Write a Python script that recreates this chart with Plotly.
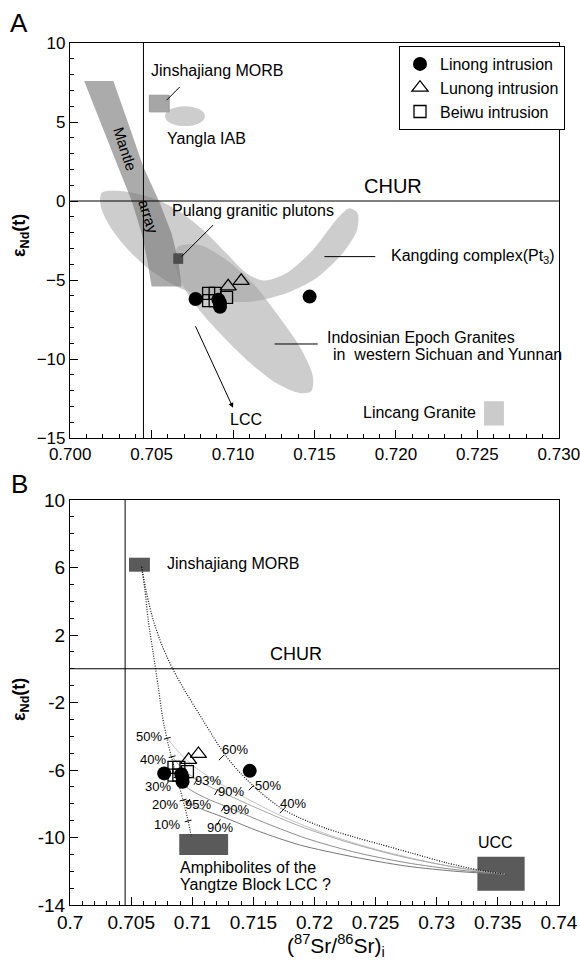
import plotly.graph_objects as go

# ---------------- sample data (same samples in both panels) ----------------
LINONG_SR = [0.7077, 0.7091, 0.7092, 0.7092, 0.7147]
LINONG_ND = [-6.2, -6.25, -6.45, -6.7, -6.05]
LUNONG_SR = [0.7097, 0.7105]
LUNONG_ND = [-5.4, -5.05]
BEIWU_SR = [0.7085, 0.7089, 0.7085, 0.7089, 0.7096]
BEIWU_ND = [-5.85, -5.85, -6.3, -6.3, -6.1]

BULK_EARTH_SR = 0.7045
CHUR_ND = 0.0

# ---------------- panel A reference fields ----------------
MANTLE_SR = [0.70086, 0.70265, 0.70357, 0.70449, 0.70551, 0.70622, 0.70663, 0.70684,
             0.70500, 0.70473, 0.70439, 0.70378, 0.70286, 0.70184]
MANTLE_ND = [7.60, 7.60, 4.905, 2.168, -0.147, -2.042, -3.726, -5.411,
             -5.411, -3.726, -2.042, 0.0, 2.379, 5.011]
KANGDING_SR = [0.70194, 0.70347, 0.70510, 0.70673, 0.70816, 0.70959, 0.71082, 0.71184,
               0.71327, 0.71490, 0.71633, 0.71714, 0.71765, 0.71761, 0.71673, 0.71510,
               0.71327, 0.71122, 0.70959, 0.70796, 0.70633, 0.70490, 0.70347, 0.70245, 0.70188]
KANGDING_ND = [0.526, 0.589, 0.168, -0.674, -1.832, -3.305, -4.568, -5.032,
               -4.568, -3.095, -1.200, -0.463, -0.779, -1.832, -3.305, -4.884,
               -5.832, -6.358, -6.358, -6.0, -5.305, -4.358, -2.989, -1.621, -0.358]
INDOSINIAN_SR = [0.70663, 0.70796, 0.70959, 0.71122, 0.71265, 0.71408, 0.71490, 0.71480,
                 0.71408, 0.71265, 0.71082, 0.70918, 0.70776, 0.70673, 0.70643]
INDOSINIAN_ND = [-2.88, -2.78, -3.73, -5.20, -7.09, -9.20, -11.09, -12.04,
                 -12.15, -11.52, -10.04, -8.36, -6.67, -4.99, -3.73]
MORB_A = [0.70486, 0.70608, 5.642, 6.695]        # Sr min, Sr max, Nd min, Nd max
YANGLA_A = [0.70582, 0.70827, 4.74, 6.0]
PULANG_A = [0.70633, 0.70694, -3.98, -3.31]
LINCANG_A = [0.72541, 0.72663, -14.21, -12.67]

# ---------------- panel B end-members and mixing curves ----------------
MORB_B = [0.70482, 0.70653, 5.75, 6.58]
AMPH_B = [0.70893, 0.71293, -11.04, -9.79]
UCC_B = [0.73333, 0.73720, -13.15, -11.14]

MIX_LCC_SR = [0.70585, 0.70612, 0.70639, 0.70680, 0.70721, 0.70756, 0.70795, 0.70835,
              0.70876, 0.70920, 0.70961, 0.70993]
MIX_LCC_ND = [6.05, 4.67, 2.89, 0.91, -1.06, -2.84, -4.22, -5.41, -6.49, -7.68, -8.86, -9.97]
MIX_UCC_SR = [0.70585, 0.70626, 0.70680, 0.70756, 0.70844, 0.70952, 0.71061, 0.71170,
              0.71279, 0.71401, 0.71551, 0.71728, 0.71878, 0.72095, 0.72313, 0.72531,
              0.72803, 0.73075, 0.73347, 0.73565]
MIX_UCC_ND = [6.05, 4.47, 2.89, 1.31, -0.07, -1.46, -2.74, -4.02, -5.21, -6.24, -7.28,
              -8.27, -8.83, -9.46, -9.95, -10.39, -10.94, -11.49, -11.93, -12.18]
MIX50_SR = [0.70795, 0.70898, 0.71034, 0.71224, 0.71442, 0.71714, 0.72041, 0.72422, 0.72857, 0.73238, 0.73565]
MIX50_ND = [-4.12, -5.01, -5.90, -6.79, -7.68, -8.67, -9.65, -10.54, -11.33, -11.88, -12.18]
MIX40_SR = [0.70835, 0.70925, 0.71061, 0.71279, 0.71551, 0.71878, 0.72259, 0.72694, 0.73129, 0.73565]
MIX40_ND = [-5.21, -5.96, -6.69, -7.44, -8.33, -9.32, -10.25, -11.10, -11.73, -12.18]
MIX30_SR = [0.70876, 0.70966, 0.71116, 0.71333, 0.71605, 0.71932, 0.72313, 0.72748, 0.73184, 0.73565]
MIX30_ND = [-6.40, -7.09, -7.68, -8.33, -9.16, -10.05, -10.84, -11.49, -11.93, -12.18]
MIX20_SR = [0.70925, 0.71061, 0.71279, 0.71551, 0.71878, 0.72313, 0.72748, 0.73184, 0.73565]
MIX20_ND = [-7.78, -8.27, -8.86, -9.65, -10.44, -11.14, -11.69, -12.02, -12.18]

TICK_LCC_SR = [0.70795, 0.70835, 0.70876, 0.70925, 0.70966]
TICK_LCC_ND = [-4.12, -5.21, -6.40, -7.78, -9.02]
TICK_LCC_TXT = ["50%", "40%", "30%", "20%", "10%"]
TICK_LCC_LBL_SR = [0.70648, 0.70680, 0.70716, 0.70776, 0.70795]
TICK_LCC_LBL_ND = [-4.02, -5.37, -6.99, -8.03, -9.20]
TICK_UCC_SR = [0.71238, 0.71483, 0.71736]
TICK_UCC_ND = [-5.27, -7.05, -8.41]
TICK_UCC_TXT = ["60%", "50%", "40%"]
TICK_UCC_LBL_SR = [0.71347, 0.71619, 0.71823]
TICK_UCC_LBL_ND = [-4.78, -6.93, -8.01]
TICK_MIX_SR = [0.71029, 0.71197, 0.70966, 0.71252, 0.71215]
TICK_MIX_ND = [-6.69, -7.30, -7.90, -8.27, -9.10]
TICK_MIX_TXT = ["93%", "90%", "95%", "90%", "90%"]
TICK_MIX_LBL_SR = [0.71129, 0.71320, 0.71048, 0.71361, 0.71230]
TICK_MIX_LBL_ND = [-6.65, -7.28, -8.07, -8.37, -9.40]

XTICKS_A = [0.700, 0.705, 0.710, 0.715, 0.720, 0.725, 0.730]
XTICKTEXT_A = ["0.700", "0.705", "0.710", "0.715", "0.720", "0.725", "0.730"]
XTICKS_B = [0.7, 0.705, 0.71, 0.715, 0.72, 0.725, 0.73, 0.735, 0.74]
XTICKTEXT_B = ["0.7", "0.705", "0.71", "0.715", "0.72", "0.725", "0.73", "0.735", "0.74"]
YTICKS_B = [-14, -10, -6, -2, 2, 6, 10]
YTICKTEXT_B = ["-14", "-10", "-6", "-2", "2", "6", "10"]

# ---------------- figure ----------------
W, H = 580, 960
FONT = "Liberation Sans, Arial, sans-serif"
fig = go.Figure()

def poly(xs, ys, color, xa, ya, shape="spline"):
    fig.add_trace(go.Scatter(x=xs + xs[:1], y=ys + ys[:1], mode="lines", fill="toself",
                             fillcolor=color, line=dict(width=0, shape=shape, smoothing=0.8),
                             hoverinfo="skip", showlegend=False, xaxis=xa, yaxis=ya))

LIGHT = "rgba(159,159,159,0.52)"
poly(KANGDING_SR, KANGDING_ND, LIGHT, "x", "y")
poly(INDOSINIAN_SR, INDOSINIAN_ND, LIGHT, "x", "y")
poly(MANTLE_SR, MANTLE_ND, "rgba(120,120,120,0.62)", "x", "y", shape="linear")

# mixing curves panel B
def curve(xs, ys, color, dash, width):
    fig.add_trace(go.Scatter(x=xs, y=ys, mode="lines", line=dict(color=color, dash=dash, width=width,
                             shape="spline", smoothing=0.8), hoverinfo="skip", showlegend=False,
                             xaxis="x2", yaxis="y2"))

curve(MIX50_SR, MIX50_ND, "#c4c4c4", "solid", 1)
curve(MIX40_SR, MIX40_ND, "#a8a8a8", "solid", 1)
curve(MIX30_SR, MIX30_ND, "#8c8c8c", "solid", 1)
curve(MIX20_SR, MIX20_ND, "#777777", "solid", 1)
curve(MIX_LCC_SR, MIX_LCC_ND, "#222222", "1px,1.5px", 1.2)
curve(MIX_UCC_SR, MIX_UCC_ND, "#111111", "1px,1.5px", 1.2)

for xs, ys, ang in [(TICK_LCC_SR, TICK_LCC_ND, 15), (TICK_UCC_SR, TICK_UCC_ND, 45), (TICK_MIX_SR, TICK_MIX_ND, 60)]:
    fig.add_trace(go.Scatter(x=xs, y=ys, mode="markers", hoverinfo="skip", showlegend=False,
                             marker=dict(symbol="line-ew-open", size=5, angle=-ang, color="black",
                                         line=dict(color="black", width=1)),
                             xaxis="x2", yaxis="y2"))

# samples in both panels
for xa, ya, show in [("x", "y", True), ("x2", "y2", False)]:
    fig.add_trace(go.Scatter(x=LINONG_SR, y=LINONG_ND, mode="markers", name="Linong intrusion",
                             legendgroup="a", showlegend=show, xaxis=xa, yaxis=ya,
                             marker=dict(symbol="circle", size=14, color="black")))
    fig.add_trace(go.Scatter(x=LUNONG_SR, y=LUNONG_ND, mode="markers", name="Lunong intrusion",
                             legendgroup="b", showlegend=show, xaxis=xa, yaxis=ya,
                             marker=dict(symbol="triangle-up-open", size=14, color="black",
                                         line=dict(width=1.3))))
    fig.add_trace(go.Scatter(x=BEIWU_SR, y=BEIWU_ND, mode="markers", name="Beiwu intrusion",
                             legendgroup="c", showlegend=show, xaxis=xa, yaxis=ya,
                             marker=dict(symbol="square-open", size=12, color="black",
                                         line=dict(width=1.3))))

shapes = []
def rect(b, xr, yr, color, line="rgba(0,0,0,0)", layer="above"):
    shapes.append(dict(type="rect", xref=xr, yref=yr, x0=b[0], x1=b[1], y0=b[2], y1=b[3],
                       fillcolor=color, line=dict(color=line, width=1), layer=layer))

def seg(x0, y0, x1, y1, xr, yr, width=1):
    shapes.append(dict(type="line", xref=xr, yref=yr, x0=x0, y0=y0, x1=x1, y1=y1,
                       line=dict(color="black", width=width)))

# panel A shapes
shapes.append(dict(type="circle", xref="x", yref="y", x0=YANGLA_A[0], x1=YANGLA_A[1],
                   y0=YANGLA_A[2], y1=YANGLA_A[3], fillcolor="#cdcdcd", line=dict(width=0)))
rect(MORB_A, "x", "y", "#a6a6a6", "#999999")
rect(PULANG_A, "x", "y", "#4d4d4d")
rect(LINCANG_A, "x", "y", "#cbcbcb")
seg(BULK_EARTH_SR, -15, BULK_EARTH_SR, 10, "x", "y")
seg(0.700, CHUR_ND, 0.730, CHUR_ND, "x", "y")
seg(0.70592, 6.38, 0.70673, 7.22, "x", "y")
seg(0.70684, -3.52, 0.70878, -1.52, "x", "y")
seg(0.71561, -3.52, 0.71873, -3.52, "x", "y")
seg(0.71255, -9.05, 0.71520, -9.05, "x", "y")
# panel B shapes
rect(MORB_B, "x2", "y2", "#5a5a5a", layer="below")
rect(AMPH_B, "x2", "y2", "#5a5a5a", layer="below")
rect(UCC_B, "x2", "y2", "#5a5a5a", layer="below")
seg(BULK_EARTH_SR, -14, BULK_EARTH_SR, 10, "x2", "y2")
seg(0.7, CHUR_ND, 0.74, CHUR_ND, "x2", "y2")

ann = []
def label(text, x, y, xr="x", yr="y", size=16, xanchor="center", yanchor="middle", angle=0):
    ann.append(dict(text=text, x=x, y=y, xref=xr, yref=yr, showarrow=False, xanchor=xanchor,
                    yanchor=yanchor, textangle=angle, font=dict(size=size, color="black", family=FONT)))

label("Jinshajiang MORB", 0.70902, 8.27)
label("Yangla IAB", 0.70837, 3.96)
label("Mantle", 0.70337, 3.33, size=15, angle=72)
label("array", 0.70480, -0.99, size=15, angle=72)
label("CHUR", 0.71980, 0.15, size=20, yanchor="bottom")
label("Pulang granitic plutons", 0.71122, -0.61)
label("Kangding complex(Pt<sub>3</sub>)", 0.71955, -3.52, xanchor="left")
label("Indosinian Epoch Granites", 0.71567, -8.67, xanchor="left")
label("in  western Sichuan and Yunnan", 0.71600, -9.73, xanchor="left")
label("LCC", 0.71082, -13.83)
label("Lincang Granite", 0.72506, -13.41, xanchor="right")
ann.append(dict(x=0.7100, y=-13.09, ax=0.70765, ay=-7.83, xref="x", yref="y", axref="x", ayref="y",
                text="", showarrow=True, arrowhead=2, arrowsize=1, arrowwidth=1, arrowcolor="black"))

label("Jinshajiang MORB", 0.70776, 6.21, "x2", "y2", xanchor="left")
label("CHUR", 0.71845, 0.15, "x2", "y2", size=18, yanchor="bottom")
label("UCC", 0.73483, -10.31, "x2", "y2")
label("Amphibolites of the", 0.70884, -11.77, "x2", "y2", xanchor="left")
label("Yangtze Block LCC ?", 0.70884, -12.78, "x2", "y2", xanchor="left")
for txts, xs, ys in [(TICK_LCC_TXT, TICK_LCC_LBL_SR, TICK_LCC_LBL_ND),
                     (TICK_UCC_TXT, TICK_UCC_LBL_SR, TICK_UCC_LBL_ND),
                     (TICK_MIX_TXT, TICK_MIX_LBL_SR, TICK_MIX_LBL_ND)]:
    for t, xv, yv in zip(txts, xs, ys):
        label(t, xv, yv, "x2", "y2", size=13)

# panel letters and axis titles
label("A", 19 / W, 1 - 23 / H, "paper", "paper", size=26)
label("B", 19 / W, 1 - 484 / H, "paper", "paper", size=26)
label("<b>ε<sub>Nd</sub>(t)</b>", 20 / W, 1 - 236 / H, "paper", "paper", size=18, angle=-90)
label("<b>ε<sub>Nd</sub>(t)</b>", 20 / W, 1 - 700 / H, "paper", "paper", size=18, angle=-90)
label("(<sup>87</sup>Sr/<sup>86</sup>Sr)<sub>i</sub>", 336 / W, 1 - 945 / H, "paper", "paper", size=21)

XDOM = [70 / W, 559 / W]
axis_common = dict(showline=True, linecolor="black", linewidth=1.2, mirror=True, showgrid=False,
                   zeroline=False, ticks="inside", ticklen=8, tickcolor="black", tickwidth=1,
                   color="black", automargin=False, ticklabeloverflow="allow")
fig.update_layout(
    width=W, height=H, margin=dict(l=0, r=0, t=0, b=0, pad=0, autoexpand=False),
    paper_bgcolor="white", plot_bgcolor="white",
    font=dict(family=FONT, color="black"),
    shapes=shapes, annotations=ann,
    xaxis=dict(domain=XDOM, range=[0.69999, 0.73001], anchor="y", tickvals=XTICKS_A,
               ticktext=XTICKTEXT_A, tickfont=dict(size=17),
               minor=dict(tickmode="linear", tick0=0.7, dtick=0.001, ticks="inside", ticklen=4,
                          tickcolor="black"), **axis_common),
    yaxis=dict(domain=[1 - 438 / H, 1 - 43 / H], range=[-15, 10], anchor="x", tick0=-15, dtick=5,
               tickfont=dict(size=17),
               minor=dict(tickmode="linear", tick0=0, dtick=1, ticks="inside", ticklen=4,
                          tickcolor="black"), **axis_common),
    xaxis2=dict(domain=XDOM, range=[0.69999, 0.74001], anchor="y2", tickvals=XTICKS_B,
                ticktext=XTICKTEXT_B, tickfont=dict(size=19),
                minor=dict(tickmode="linear", tick0=0.7, dtick=0.001, ticks="inside", ticklen=4,
                           tickcolor="black"), **axis_common),
    yaxis2=dict(domain=[1 - 905 / H, 1 - 500 / H], range=[-14, 10], anchor="x2", tickvals=YTICKS_B,
                ticktext=YTICKTEXT_B, tickfont=dict(size=19),
                minor=dict(tickmode="linear", tick0=0, dtick=1, ticks="inside", ticklen=4,
                           tickcolor="black"), **axis_common),
    legend=dict(x=399 / W, y=1 - 46 / H, xanchor="left", yanchor="top", bordercolor="black",
                borderwidth=1, bgcolor="white", font=dict(size=16, family=FONT),
                traceorder="grouped", tracegroupgap=0),
    showlegend=True,
)

fig.write_html("out.html")
